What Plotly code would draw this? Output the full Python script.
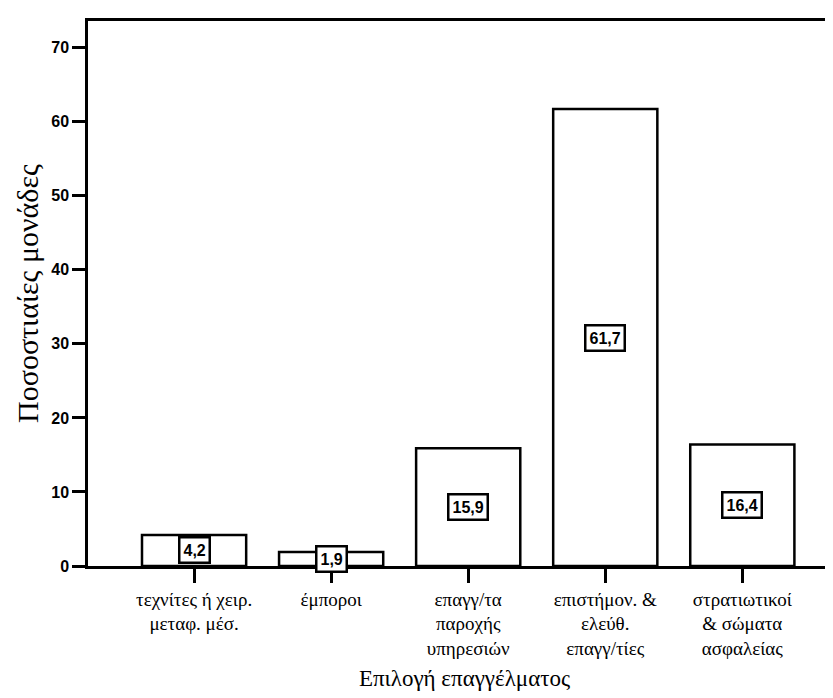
import plotly.graph_objects as go

categories = [
    "τεχνίτες ή χειρ.<br>μεταφ. μέσ.",
    "έμποροι",
    "επαγγ/τα<br>παροχής<br>υπηρεσιών",
    "επιστήμον. &<br>ελεύθ.<br>επαγγ/τίες",
    "στρατιωτικοί<br>& σώματα<br>ασφαλείας",
]
values = [4.2, 1.9, 15.9, 61.7, 16.4]
value_labels = ["4,2", "1,9", "15,9", "61,7", "16,4"]
y_ticks = [0, 10, 20, 30, 40, 50, 60, 70]

fig = go.Figure()
fig.add_trace(go.Bar(
    x=categories, y=values, width=0.76,
    marker=dict(color="white", line=dict(color="black", width=2.5)),
    hoverinfo="skip",
))

for c, v, t in zip(categories, values, value_labels):
    fig.add_annotation(
        x=c, y=v / 2, text=t, showarrow=False,
        font=dict(family="Liberation Sans", size=16, color="black", weight="bold"),
        bgcolor="white", bordercolor="black", borderwidth=2.5, borderpad=3,
    )

fig.update_layout(
    width=833, height=698,
    margin=dict(l=80, r=0, t=13, b=140),
    paper_bgcolor="white", plot_bgcolor="white",
    showlegend=False,
    xaxis=dict(
        type="category",
        range=[-0.774, 4.72],
        showline=True, linecolor="black", linewidth=2.5, mirror=True,
        ticks="outside", ticklen=14, tickwidth=2.5, tickcolor="black",
        showgrid=False, zeroline=False,
        tickfont=dict(family="Liberation Serif", size=19, color="black"),
        title=dict(text="Επιλογή επαγγέλματος",
                   font=dict(family="Liberation Serif", size=23, color="black"),
                   standoff=12),
    ),
    yaxis=dict(
        range=[0, 73.6],
        tickvals=y_ticks,
        showline=True, linecolor="black", linewidth=2.5,
        ticks="outside", ticklen=13, tickwidth=2.5, tickcolor="black",
        showgrid=False, zeroline=False,
        tickfont=dict(family="Liberation Sans", size=16, color="black", weight="bold"),
        title=dict(text="Ποσοστιαίες μονάδες",
                   font=dict(family="Liberation Serif", size=30, color="black"),
                   standoff=4),
    ),
)

fig.write_html("out.html")
